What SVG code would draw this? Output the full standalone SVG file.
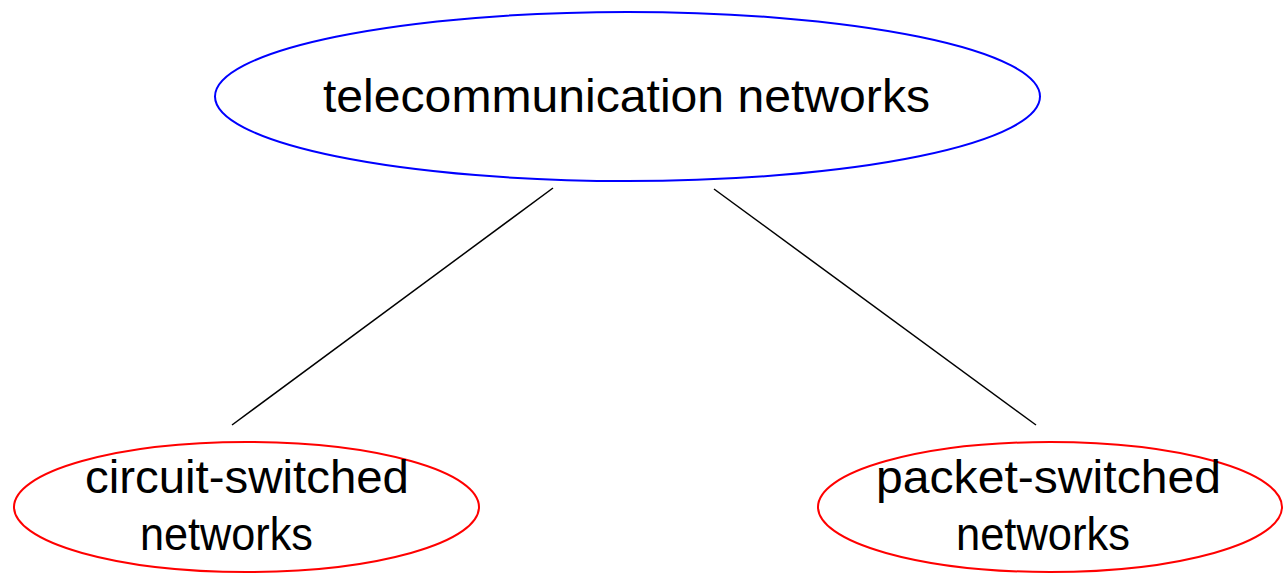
<svg xmlns="http://www.w3.org/2000/svg" width="1283" height="573" viewBox="0 0 1283 573">
<style>
.lbl{font-family:"Liberation Sans",Arial,sans-serif;font-size:46px;fill:#000;}
.top{fill:none;stroke:#0000ff;stroke-width:2;}
.sub{fill:none;stroke:#ff0000;stroke-width:2;}
.edge{stroke:#000;stroke-width:1.5;fill:none;}
</style>
<rect width="1283" height="573" fill="#fff"/>
<g id="connectors">
<line class="edge" x1="553" y1="188" x2="232" y2="425"/>
<line class="edge" x1="714" y1="189" x2="1036" y2="425"/>
</g>
<g id="telecom">
<ellipse class="top" cx="627.5" cy="96.5" rx="412.5" ry="84.5"/>
<text class="lbl" x="323" y="112" textLength="607" lengthAdjust="spacingAndGlyphs">telecommunication networks</text>
</g>
<g id="circuit">
<ellipse class="sub" cx="246.5" cy="507" rx="232.5" ry="65"/>
<text class="lbl" x="85" y="493" textLength="324" lengthAdjust="spacingAndGlyphs">circuit-switched</text>
<text class="lbl" x="140" y="550" textLength="173" lengthAdjust="spacingAndGlyphs">networks</text>
</g>
<g id="packet">
<ellipse class="sub" cx="1050" cy="507" rx="232" ry="65"/>
<text class="lbl" x="876" y="493" textLength="345" lengthAdjust="spacingAndGlyphs">packet-switched</text>
<text class="lbl" x="956" y="550" textLength="174" lengthAdjust="spacingAndGlyphs">networks</text>
</g>
</svg>
